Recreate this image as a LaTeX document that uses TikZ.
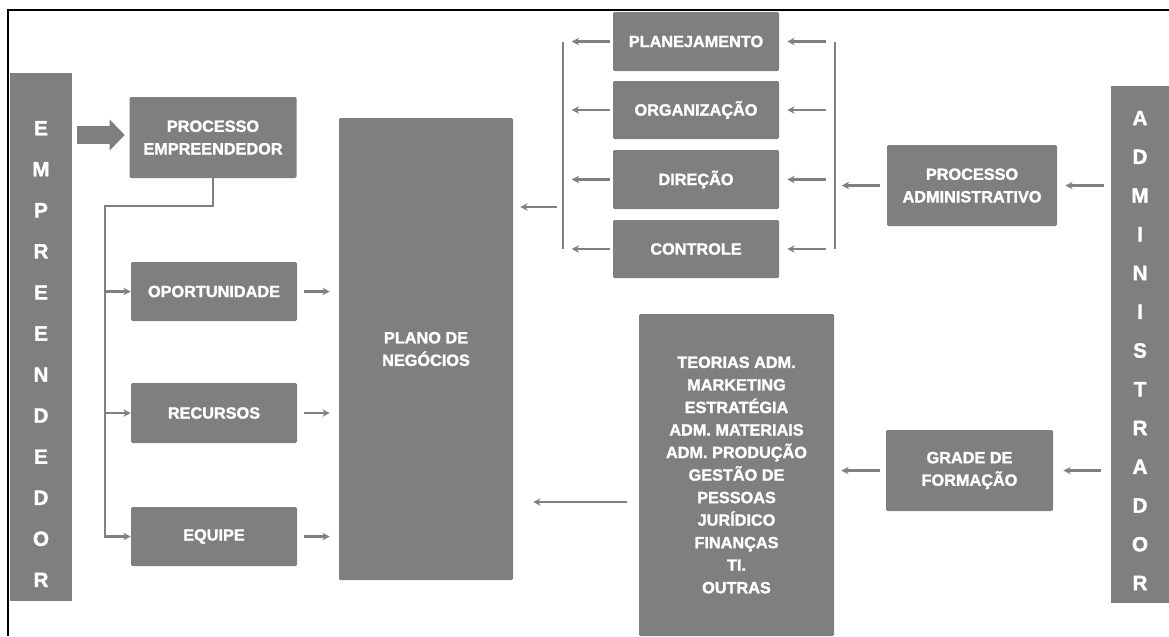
\documentclass[tikz,border=0pt]{standalone}
\usepackage{fontspec}
\setmainfont{Liberation Sans}[BoldFeatures={FakeBold=1.6}]
\usetikzlibrary{arrows.meta,calc}
\definecolor{boxgray}{HTML}{7F7F7F}
\definecolor{linegray}{HTML}{808080}
\begin{document}
\begin{tikzpicture}[x=0.75pt,y=-0.75pt,
  sz/.style 2 args={minimum width={#1*0.75pt}, minimum height={#2*0.75pt}},
  box/.style={fill=boxgray, text=white, align=center, inner sep=0pt,
    rounded corners=1pt, font=\bfseries\fontsize{12.2}{16.9}\selectfont},
  bar/.style={fill=boxgray, inner sep=0pt},
  letters/.style={text=white, align=center, inner sep=0pt},
  link/.style={draw=linegray, line width=1.6pt},
  arr/.style={link, -{Stealth[length=5.5pt,width=5.5pt]}},
  fat/.style={draw=boxgray, line width=13.5pt,
    -{Triangle[length=11.25pt 0 0,width=22.5pt 0 0]}}
]
\useasboundingbox (0,0) rectangle (1169,636);

% frame
\draw[line width=1.5pt] (8,636) -- (8,10) -- (1169,10);

% side bars
\node[bar, sz={62}{528}] (emp) at (41,337) {};
\node[letters, font=\bfseries\fontsize{15.5}{30.8}\selectfont] (empl) at (41,354)
  {E\\M\\P\\R\\E\\E\\N\\D\\E\\D\\O\\R};
\node[bar, sz={58}{517}] (adm) at (1140,344.5) {};
\node[letters, font=\bfseries\fontsize{15.5}{29.06}\selectfont] (adml) at (1140,350.5)
  {A\\D\\M\\I\\N\\I\\S\\T\\R\\A\\D\\O\\R};

% entrepreneur side
\node[box, sz={167}{81}] (pe) at (213,137.5) {PROCESSO\\EMPREENDEDOR};
\node[box, sz={166}{59}] (op) at (214,291.5) {OPORTUNIDADE};
\node[box, sz={166}{60}] (rec) at (214,413) {RECURSOS};
\node[box, sz={166}{59}] (eq) at (214,536.5) {EQUIPE};
\node[box, sz={174}{462}] (plano) at (426,349) {PLANO DE\\NEGÓCIOS};

% administrative functions
\node[box, sz={166}{59}] (plan) at (696,41.5) {PLANEJAMENTO};
\node[box, sz={166}{58}] (org) at (696,110) {ORGANIZAÇÃO};
\node[box, sz={166}{59}] (dir) at (696,179.5) {DIREÇÃO};
\node[box, sz={166}{58}] (ctrl) at (696,249) {CONTROLE};
\node[box, sz={170}{81}] (padm) at (972,185.5) {PROCESSO\\ADMINISTRATIVO};

% training
\node[box, sz={195}{322}] (list) at (736.5,475)
  {TEORIAS ADM.\\MARKETING\\ESTRATÉGIA\\ADM. MATERIAIS\\ADM. PRODUÇÃO\\GESTÃO DE\\PESSOAS\\JURÍDICO\\FINANÇAS\\TI.\\OUTRAS};
\node[box, sz={167}{81}] (grade) at (969.5,470.5) {GRADE DE\\FORMAÇÃO};

% connectors, left side
\draw[fat] ($(emp.east |- pe.west)+(5,-2.5)$) -- ($(pe.west)+(-4.5,-2.5)$);
\coordinate (split) at (105,206);
\draw[arr] (pe.south) |- (split) |- (eq.west);
\draw[arr] (split |- op.west) -- (op.west);
\draw[arr] (split |- rec.west) -- (rec.west);
\foreach \b in {op,rec,eq}
  \draw[arr] ($(\b.east)+(7,0)$) -- ($(\b.east -| plano.west)+(-9,0)$);

% connectors, administrative process
\draw[link] ($(plan.west)+(-50,0)$) -- ($(ctrl.west)+(-50,0)$);
\draw[link] ($(plan.east)+(56,0)$) -- ($(ctrl.east)+(56,0)$);
\foreach \b in {plan,org,dir,ctrl} {
  \draw[arr] ($(\b.west)+(-3,0)$) -- ($(\b.west)+(-41,0)$);
  \draw[arr] ($(\b.east)+(47,0)$) -- ($(\b.east)+(8,0)$);
}
\coordinate (lb) at (557,207);
\draw[arr] (lb) -- ($(lb -| plano.east)+(7,0)$);
\draw[arr] ($(padm.west)+(-7,0)$) -- ($(padm.west)+(-45,0)$);
\draw[arr] ($(adm.west |- padm.east)+(-7,0)$) -- ($(padm.east)+(8,0)$);

% connectors, training
\draw[arr] ($(adm.west |- grade.east)+(-10,0)$) -- ($(grade.east)+(10,0)$);
\draw[arr] ($(grade.west)+(-6,0)$) -- ($(grade.west -| list.east)+(7,0)$);
\draw[arr] ($(list.west)+(-12,27)$) -- ($(list.west -| plano.east)+(20,27)$);
\end{tikzpicture}
\end{document}
